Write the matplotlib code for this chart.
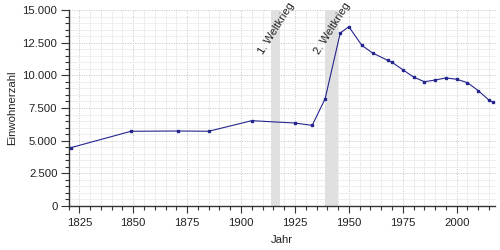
import matplotlib
matplotlib.use("Agg")
import matplotlib.pyplot as plt
from matplotlib.ticker import MultipleLocator, FuncFormatter

years = [1821, 1849, 1871, 1885, 1905, 1925, 1933, 1939, 1946, 1950, 1956, 1961,
         1968, 1970, 1975, 1980, 1985, 1990, 1995, 2000, 2005, 2010, 2015, 2017]
einwohner = [4460, 5720, 5740, 5720, 6530, 6350, 6170, 8210, 13240, 13720, 12300, 11710,
             11150, 11000, 10430, 9870, 9510, 9640, 9800, 9700, 9440, 8830, 8100, 7930]

kriege = [(1914, 1918, "1. Weltkrieg"), (1939, 1945, "2. Weltkrieg")]

plt.rcParams['font.family'] = ['Liberation Sans', 'DejaVu Sans']
fs = 8.2

fig = plt.figure(figsize=(5, 2.5), dpi=100)
ax = fig.add_axes([0.137, 0.176, 0.854, 0.784])

for start, ende, name in kriege:
    ax.axvspan(start, ende, color='#e0e0e0', lw=0, zorder=1)
    ax.text((start + ende) / 2 + 0.5, 13580, name, rotation=58, ha='center', va='center',
            fontsize=8, color='#222222', zorder=4)

ax.plot(years, einwohner, color='#25258f', lw=0.8, marker='s', ms=1.6, zorder=3)

ax.set_xlim(1820, 2018)
ax.set_ylim(0, 15000)

ax.xaxis.set_major_locator(MultipleLocator(25))
ax.xaxis.set_minor_locator(MultipleLocator(5))
ax.yaxis.set_major_locator(MultipleLocator(2500))
ax.yaxis.set_minor_locator(MultipleLocator(500))
ax.yaxis.set_major_formatter(FuncFormatter(lambda v, p: f"{int(v):,}".replace(",", ".")))

ax.grid(which='major', color='#c4c4c4', ls=(0, (1, 1.5)), lw=0.7, zorder=0)
ax.grid(which='minor', color='#ebebeb', ls='-', lw=0.6, zorder=0)
ax.set_axisbelow(True)

for s in ['top', 'right']:
    ax.spines[s].set_visible(False)
for s in ['left', 'bottom']:
    ax.spines[s].set_linewidth(1.0)
    ax.spines[s].set_color('#333333')

ax.tick_params(which='major', length=6, width=0.8, color='#333333', labelsize=fs,
               labelcolor='#222222', pad=2)
ax.tick_params(which='minor', length=3, width=0.8, color='#333333')
ax.tick_params(axis='x', which='major', length=5, pad=4)

ax.set_xlabel("Jahr", fontsize=fs, color='#222222', labelpad=5)
ax.set_ylabel("Einwohnerzahl", fontsize=fs, color='#222222', labelpad=4)

fig.savefig("out.png", dpi=100)
